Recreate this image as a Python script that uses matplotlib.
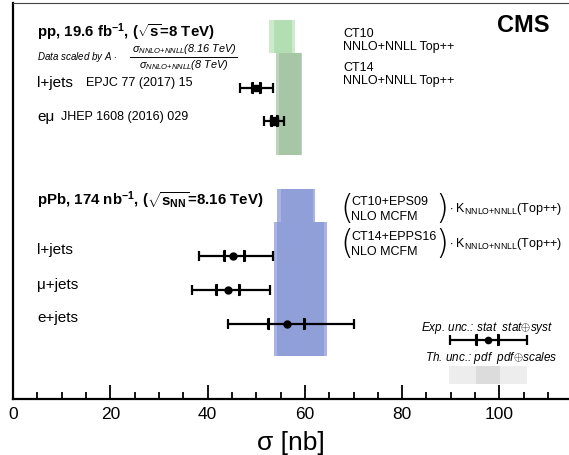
import matplotlib
matplotlib.use("Agg")
import matplotlib.pyplot as plt
from matplotlib.path import Path
from matplotlib.lines import Line2D

plt.rcParams['font.family'] = ['Liberation Sans', 'DejaVu Sans']
plt.rcParams['mathtext.fontset'] = 'custom'
plt.rcParams['mathtext.rm'] = 'Liberation Sans'
plt.rcParams['mathtext.it'] = 'Liberation Sans:italic'
plt.rcParams['mathtext.bf'] = 'Liberation Sans:bold'

# --- dati (sigma in nb) ---
# pp, scalati a 8.16 TeV
pp_labels = ["l+jets", "eμ"]
pp_val = [50.1, 53.7]
pp_stat_lo = [49.2, 53.0]
pp_stat_hi = [51.0, 54.4]
pp_tot_lo = [46.7, 51.5]
pp_tot_hi = [53.5, 55.8]

# pPb
ppb_labels = ["l+jets", "μ+jets", "e+jets"]
ppb_val = [45.3, 44.2, 56.3]
ppb_stat_lo = [43.3, 41.7, 52.5]
ppb_stat_hi = [47.6, 46.6, 60.1]
ppb_tot_lo = [38.3, 36.9, 44.1]
ppb_tot_hi = [53.4, 52.9, 70.0]

# teoria: (pdf_lo, pdf_hi, tot_lo, tot_hi)
th_ct10 = (53.7, 57.3, 52.7, 57.9)
th_ct14 = (54.7, 59.2, 54.1, 59.4)
th_eps09 = (55.0, 61.6, 54.3, 62.1)
th_epps16 = (54.2, 64.0, 53.6, 64.5)

# legenda
leg_val, leg_stat, leg_tot = 97.6, (95.1, 99.9), (89.8, 105.7)
leg_band = (95.1, 100.2, 89.6, 105.6)

W, H = 569, 455
fig = plt.figure(figsize=(W / 100, H / 100), dpi=100)
ax = fig.add_axes([13 / W, (H - 399) / H, (W - 13) / W, 396 / H])
ax.set_xlim(0, 114.3)
ax.set_ylim(399, 3)   # righe in pixel, dall'alto

# posizioni verticali (layout)
pp_rows = [88, 121]
ppb_rows = [256, 290, 323.5]


def band(th, y0, y1, c_out, c_in):
    ax.fill_betweenx([y0, y1], th[2], th[3], color=c_out, lw=0, zorder=1)
    ax.fill_betweenx([y0, y1], th[0], th[1], color=c_in, lw=0, zorder=1)


band(th_ct10, 20, 53, '#cdeacd', '#b3deb3')
band(th_ct14, 53, 155, '#bcd4bc', '#a6c6a6')
band(th_eps09, 189, 222, '#a9b4e2', '#919fd8')
band(th_epps16, 222, 356, '#a9b4e2', '#919fd8')
band(leg_band, 366, 384, '#ededed', '#dcdcdc')

lb = Path([(0.35, -1), (0, -1), (0, 1), (0.35, 1)], [1, 2, 2, 2])
rb = Path([(-0.35, -1), (0, -1), (0, 1), (-0.35, 1)], [1, 2, 2, 2])


def point(v, slo, shi, tlo, thi, y, mk='o', ms=5):
    ax.errorbar([v], [y], xerr=[[v - tlo], [thi - v]], fmt='none', ecolor='black',
                elinewidth=1.6, capsize=3.5, capthick=1.6, zorder=4)
    ax.plot([slo], [y], marker=lb, ms=7, mew=1.5, color='black', ls='none', zorder=5)
    ax.plot([shi], [y], marker=rb, ms=7, mew=1.5, color='black', ls='none', zorder=5)
    ax.plot([v], [y], marker=mk, ms=ms, color='black', ls='none', zorder=6)


for i, y in enumerate(pp_rows):
    point(pp_val[i], pp_stat_lo[i], pp_stat_hi[i], pp_tot_lo[i], pp_tot_hi[i], y,
          mk='s', ms=4.5 if i == 0 else 6)
for i, y in enumerate(ppb_rows):
    point(ppb_val[i], ppb_stat_lo[i], ppb_stat_hi[i], ppb_tot_lo[i], ppb_tot_hi[i], y)
point(leg_val, leg_stat[0], leg_stat[1], leg_tot[0], leg_tot[1], 340, ms=4.5)

# assi
ax.spines['right'].set_visible(False)
ax.spines['top'].set_linewidth(0.8)
ax.spines['top'].set_color('#444444')
ax.spines['left'].set_linewidth(1.6)
ax.spines['bottom'].set_linewidth(1.6)
ax.set_yticks([])
ax.set_xticks(range(0, 101, 20))
ax.set_xticks(range(0, 115, 5), minor=True)
ax.tick_params(axis='x', which='major', direction='in', length=10, width=1.3,
               labelsize=12.5, pad=6)
ax.tick_params(axis='x', which='minor', direction='in', length=4.8, width=1.3)
ax.set_xlabel('σ [nb]', fontsize=19, labelpad=6)


def ftxt(x, y, s, **kw):
    kw.setdefault('va', 'center')
    return fig.text(x / W, 1 - y / H, s, **kw)


# --- testi pp ---
ftxt(37, 32, r"pp, 19.6 fb$^{\mathbf{-1}}$, ($\mathbf{\sqrt{s}}$=8 TeV)",
     fontsize=10.8, fontweight='bold')
ftxt(37, 57, r"Data scaled by A $\cdot$", fontsize=7, style='italic')
ftxt(184, 49.5, r"$\sigma_{NNLO{+}NNLL}$(8.16 TeV)", fontsize=7.8, style='italic', ha='center')
ftxt(184, 64.5, r"$\sigma_{NNLO{+}NNLL}$(8 TeV)", fontsize=7.8, style='italic', ha='center')
fig.add_artist(Line2D([130 / W, 237 / W], [1 - 57 / H, 1 - 57 / H],
                      color='black', lw=0.7))
ftxt(37, 83, "l+jets", fontsize=11)
ftxt(86, 83, "EPJC 77 (2017) 15", fontsize=9)
ftxt(37, 117, "eμ", fontsize=11)
ftxt(61, 117, "JHEP 1608 (2016) 029", fontsize=9)

ftxt(549, 26, "CMS", fontsize=17, fontweight='bold', ha='right')
ftxt(343, 34, "CT10", fontsize=9)
ftxt(343, 47, "NNLO+NNLL Top++", fontsize=9)
ftxt(343, 68, "CT14", fontsize=9)
ftxt(343, 81, "NNLO+NNLL Top++", fontsize=9)

# --- testi pPb ---
ftxt(37, 200, r"pPb, 174 nb$^{\mathbf{-1}}$, ($\mathbf{\sqrt{s_{NN}}}$=8.16 TeV)",
     fontsize=10.8, fontweight='bold')
for lab, yy in zip(ppb_labels, [250, 285, 318]):
    ftxt(37, yy, lab, fontsize=11)

for (l1, l2), yc in zip([("CT10+EPS09", "NLO MCFM"), ("CT14+EPPS16", "NLO MCFM")],
                        [209.5, 244]):
    ftxt(340, yc, "(", fontsize=24, family='DejaVu Sans', fontweight='ultralight')
    ftxt(351, yc - 7.5, l1, fontsize=9)
    ftxt(351, yc + 7.5, l2, fontsize=9)
    ftxt(448, yc, ")", fontsize=24, ha='right', family='DejaVu Sans', fontweight='ultralight')
    ftxt(449, yc, r"$\cdot$ K$_{\mathrm{NNLO{+}NNLL}}$(Top++)", fontsize=9)

ftxt(487, 328, r"Exp. unc.: stat  stat$\oplus$syst", fontsize=8.5, style='italic', ha='center')
ftxt(491, 358, r"Th. unc.: pdf  pdf$\oplus$scales", fontsize=8.5, style='italic', ha='center')

fig.savefig("out.png", dpi=100)
